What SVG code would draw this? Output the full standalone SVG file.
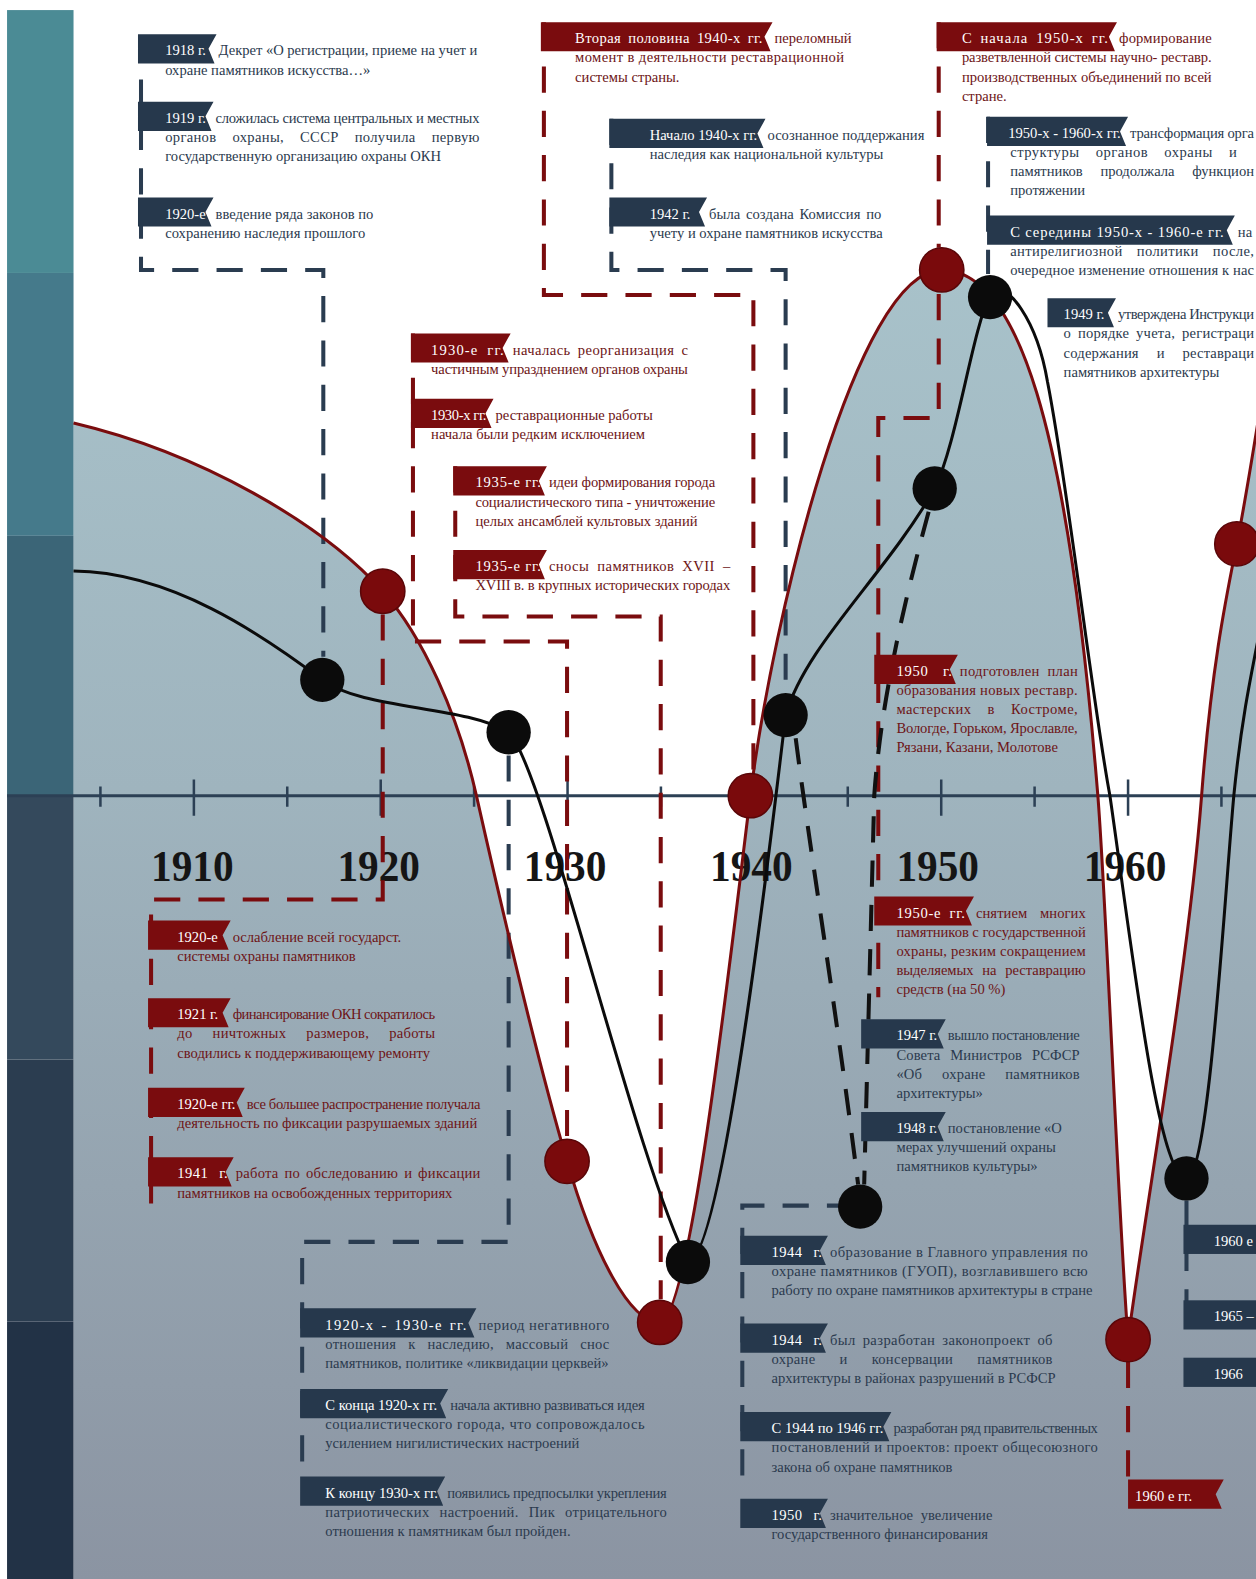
<svg xmlns="http://www.w3.org/2000/svg" width="1256" height="1579" viewBox="0 0 1256 1579">
<defs>
<linearGradient id="bg" x1="0" y1="260" x2="0" y2="1568" gradientUnits="userSpaceOnUse">
<stop offset="0" stop-color="#a8c2ca"/>
<stop offset="0.4" stop-color="#9fb4be"/>
<stop offset="1" stop-color="#8b94a2"/>
</linearGradient>
<style>
.nf{fill:#26384c}
.rf{fill:#7a0c0e}
.ft{font-family:"Liberation Serif",serif;font-size:14.5px;fill:#fff}
.tn{font-family:"Liberation Serif",serif;font-size:14.5px;fill:#2b3a4e}
.tr{font-family:"Liberation Serif",serif;font-size:14.5px;fill:#6d1416}
.dn{fill:none;stroke:#2a3c50;stroke-width:4;stroke-dasharray:26 18}
.dr{fill:none;stroke:#7a0c0e;stroke-width:4;stroke-dasharray:26 18}
.db{fill:none;stroke:#111;stroke-width:4;stroke-dasharray:26 18}
.cr{fill:#7a0a0c;stroke:#5a0608;stroke-width:1.5}
.cb{fill:#0b0b0b}
.yr{font-family:"Liberation Serif",serif;font-weight:bold;font-size:44px;fill:#151515;text-anchor:middle}
.tk{stroke:#2c4055;stroke-width:2.5}
</style>
</defs>
<rect width="1256" height="1579" fill="#fff"/>
<g transform="scale(1.0072)">
<g id="background">
<path d="M73,420 C200,450 320,520 380,587 C420,632 455,710 473,790 C491,870 530,1040 563,1153 C590,1245 625,1313 655,1313 C685,1313 725,950 745,790 C767,614 850,268 935,268 C1010,268 1060,420 1090,790 C1098,889 1110,1200 1120,1330 C1135,1215 1180,960 1193,790 C1203,660 1218,590 1228,540 C1236,500 1244,450 1252,400 L1252,1570 L73,1570 Z" fill="url(#bg)"/>
<rect x="7" y="10" width="66" height="261" fill="#4b8b95"/>
<rect x="7" y="271" width="66" height="261" fill="#457a8b"/>
<rect x="7" y="532" width="66" height="259" fill="#3b6577"/>
<rect x="7" y="791" width="66" height="261" fill="#34495c"/>
<rect x="7" y="1052" width="66" height="260" fill="#2b3d50"/>
<rect x="7" y="1312" width="66" height="258" fill="#223246"/>
</g>
<g id="axis">
<line x1="7" y1="790" x2="1252" y2="790" stroke="#2c4055" stroke-width="3"/>
<path class="tk" d="M192.5,774V810M378,774V810M563.5,774V810M749,774V810M934.5,774V810M1120,774V810M99.7,781V801M285.2,781V801M470.7,781V801M656.2,781V801M841.7,781V801M1027.2,781V801M1212.7,781V801"/>
<text class="yr" x="191" y="875" textLength="82" lengthAdjust="spacingAndGlyphs">1910</text>
<text class="yr" x="376" y="875" textLength="82" lengthAdjust="spacingAndGlyphs">1920</text>
<text class="yr" x="561" y="875" textLength="82" lengthAdjust="spacingAndGlyphs">1930</text>
<text class="yr" x="746" y="875" textLength="82" lengthAdjust="spacingAndGlyphs">1940</text>
<text class="yr" x="931" y="875" textLength="82" lengthAdjust="spacingAndGlyphs">1950</text>
<text class="yr" x="1117" y="875" textLength="82" lengthAdjust="spacingAndGlyphs">1960</text>
</g>
<g id="connectors">
<path class="dn" d="M140,35 V268 H321 V652"/>
<path class="dn" d="M607,118 V268 H780 V688"/>
<path class="dr" d="M540,22 V293 H748 V768"/>
<path class="dr" d="M932,22 V246 M932,292 V415 H872 V990"/>
<path class="dr" d="M410,331 V637 H563 V1130"/>
<path class="dr" d="M452,463 V612 H656 V1290"/>
<path class="dr" d="M380,610 V893 H150 V1195"/>
<path class="dn" d="M505,750 V1233 H300 V1455"/>
<path class="dn" d="M737,1465 V1197 H835"/>
<path class="dn" d="M981,116 V272"/>
<path class="dr" d="M1120,1352 V1470"/>
<path class="dn" d="M1178,1192 V1320"/>
<path class="db" d="M790,733 C805,850 830,1000 852,1176"/>
<path class="db" d="M922,508 C900,590 875,690 868,790 L858,1176"/>
<path d="M73,420 C200,450 320,520 380,587 C420,632 455,710 473,790 C491,870 530,1040 563,1153 C590,1245 625,1313 655,1313 C685,1313 725,950 745,790 C767,614 850,268 935,268 C1010,268 1060,420 1090,790 C1098,889 1110,1200 1120,1330 C1135,1215 1180,960 1193,790 C1203,660 1218,590 1228,540 C1236,500 1244,450 1252,400" fill="none" stroke="#7a0c0e" stroke-width="3"/>
<path d="M73,567 C170,568 260,630 320,675 C360,705 460,700 505,727 C540,760 630,1150 683,1253 C715,1253 760,880 780,710 C800,640 880,570 928,485 C950,440 965,330 983,292 C1000,275 1030,320 1040,379 C1060,480 1085,700 1102,790 C1125,950 1150,1170 1178,1170 C1200,1170 1215,900 1225,790 C1232,720 1240,680 1252,620" fill="none" stroke="#0b0b0b" stroke-width="3"/>
</g>
<g id="points">
<circle class="cr" cx="380" cy="587" r="22"/>
<circle class="cr" cx="563" cy="1153" r="22"/>
<circle class="cr" cx="655" cy="1313" r="22"/>
<circle class="cr" cx="745" cy="790" r="22"/>
<circle class="cr" cx="935" cy="268" r="22"/>
<circle class="cr" cx="1120" cy="1330" r="22"/>
<circle class="cr" cx="1228" cy="540" r="22"/>
<circle class="cb" cx="320" cy="675" r="22"/>
<circle class="cb" cx="505" cy="727" r="22"/>
<circle class="cb" cx="683" cy="1253" r="22"/>
<circle class="cb" cx="780" cy="710" r="22"/>
<circle class="cb" cx="928" cy="485" r="22"/>
<circle class="cb" cx="983" cy="295" r="22"/>
<circle class="cb" cx="1178" cy="1170" r="22"/>
<circle class="cb" cx="854" cy="1198" r="22"/>
</g>
<g id="n1918"><path class="nf" d="M137,34 H215 L207,48.5 L213,63 H137Z"/><text class="ft" x="164" y="55">1918 г.</text><text class="tn" x="217" y="55" textLength="257">Декрет «О регистрации, приеме на учет и</text><text class="tn" x="164" y="74">охране памятников искусства…»</text></g>
<g id="n1919"><path class="nf" d="M137,101 H212 L204,115.5 L210,130 H137Z"/><text class="ft" x="164" y="122">1919 г.</text><text class="tn" x="214" y="122" textLength="262">сложилась система центральных и местных</text><text class="tn" x="164" y="141" textLength="312" style="word-spacing:12px">органов охраны, СССР получила первую</text><text class="tn" x="164" y="160">государственную организацию охраны ОКН</text></g>
<g id="n1920a"><path class="nf" d="M137,196 H212 L204,210.5 L210,225 H137Z"/><text class="ft" x="164" y="217">1920-е</text><text class="tn" x="214" y="217">введение ряда законов по</text><text class="tn" x="164" y="236">сохранению наследия прошлого</text></g>
<g id="r1940b"><path class="rf" d="M537,22 H767 L759,36.5 L765,51 H537Z"/><text class="ft" x="571" y="43" textLength="186" style="word-spacing:3px">Вторая половина 1940-х гг.</text><text class="tr" x="769" y="43">переломный</text><text class="tr" x="571" y="62" textLength="267">момент в деятельности реставрационной</text><text class="tr" x="571" y="81">системы страны.</text></g>
<g id="n1940a"><path class="nf" d="M605,118 H760 L752,132.5 L758,147 H605Z"/><text class="ft" x="645" y="139">Начало 1940-х гг.</text><text class="tn" x="762" y="139">осознанное поддержания</text><text class="tn" x="645" y="158">наследия как национальной культуры</text></g>
<g id="n1942"><path class="nf" d="M605,196 H702 L694,210.5 L700,225 H605Z"/><text class="ft" x="645" y="217">1942 г.</text><text class="tn" x="704" y="217" textLength="171" style="word-spacing:2px">была создана Комиссия по</text><text class="tn" x="645" y="236">учету и охране памятников искусства</text></g>
<g id="r1950a"><path class="rf" d="M930,22 H1109 L1101,36.5 L1107,51 H930Z"/><text class="ft" x="955" y="43" textLength="145" style="word-spacing:3px">С начала 1950-х гг.</text><text class="tr" x="1111" y="43" textLength="92">формирование</text><text class="tr" x="955" y="62" textLength="248">разветвленной системы научно- реставр.</text><text class="tr" x="955" y="81" textLength="248">производственных объединений по всей</text><text class="tr" x="955" y="100">стране.</text></g>
<g id="n1950b"><path class="nf" d="M980,116 H1120 L1112,130.5 L1118,145 H980Z"/><text class="ft" x="1001" y="137">1950-х - 1960-х гг.</text><text class="tn" x="1122" y="137" textLength="123">трансформация орга</text><text class="tn" x="1003" y="156" textLength="225" style="word-spacing:12px">структуры органов охраны и</text><text class="tn" x="1003" y="175" textLength="242" style="word-spacing:14px">памятников продолжала функцион</text><text class="tn" x="1003" y="194">протяжении</text></g>
<g id="n1950c"><path class="nf" d="M980,214 H1226 L1218,228.5 L1224,243 H980Z"/><text class="ft" x="1003" y="235" textLength="212">С середины 1950-х - 1960-е гг.</text><text class="tn" x="1229" y="235">на</text><text class="tn" x="1003" y="254" textLength="242" style="word-spacing:10px">антирелигиозной политики после,</text><text class="tn" x="1003" y="273" textLength="242">очередное изменение отношения к нас</text></g>
<g id="n1949"><path class="nf" d="M1040,296 H1108 L1100,310.5 L1106,325 H1040Z"/><text class="ft" x="1056" y="317">1949 г.</text><text class="tn" x="1110" y="317" textLength="135">утверждена Инструкци</text><text class="tn" x="1056" y="336" textLength="189" style="word-spacing:3px">о порядке учета, регистраци</text><text class="tn" x="1056" y="355" textLength="189" style="word-spacing:14px">содержания и реставраци</text><text class="tn" x="1056" y="374">памятников архитектуры</text></g>
<g id="r1930a"><path class="rf" d="M408,331 H507 L499,345.5 L505,360 H408Z"/><text class="ft" x="428" y="352" textLength="72" style="word-spacing:4px">1930-е гг.</text><text class="tr" x="509" y="352" textLength="174" style="word-spacing:3px">началась реорганизация с</text><text class="tr" x="428" y="371" textLength="255">частичным упразднением органов охраны</text></g>
<g id="r1930b"><path class="rf" d="M408,396 H490 L482,410.5 L488,425 H408Z"/><text class="ft" x="428" y="417" textLength="55">1930-х гг.</text><text class="tr" x="492" y="417">реставрационные работы</text><text class="tr" x="428" y="436">начала были редким исключением</text></g>
<g id="r1935a"><path class="rf" d="M450,463 H543 L535,477.5 L541,492 H450Z"/><text class="ft" x="472" y="484" textLength="65">1935-е гг.</text><text class="tr" x="545" y="484" textLength="165">идеи формирования города</text><text class="tr" x="472" y="503" textLength="238">социалистического типа - уничтожение</text><text class="tr" x="472" y="522">целых ансамблей культовых зданий</text></g>
<g id="r1935b"><path class="rf" d="M450,546 H543 L535,560.5 L541,575 H450Z"/><text class="ft" x="472" y="567" textLength="65">1935-е гг.</text><text class="tr" x="545" y="567" textLength="180" style="word-spacing:4px">сносы памятников XVII –</text><text class="tr" x="472" y="586" textLength="253">XVIII в. в крупных исторических городах</text></g>
<g id="r1950d"><path class="rf" d="M868,650 H951 L943,664.5 L949,679 H868Z"/><text class="ft" x="890" y="671" textLength="55" style="word-spacing:10px">1950 г.</text><text class="tr" x="953" y="671" textLength="117" style="word-spacing:4px">подготовлен план</text><text class="tr" x="890" y="690" textLength="180">образования новых реставр.</text><text class="tr" x="890" y="709" textLength="180" style="word-spacing:12px">мастерских в Костроме,</text><text class="tr" x="890" y="728" textLength="180">Вологде, Горьком, Ярославле,</text><text class="tr" x="890" y="747">Рязани, Казани, Молотове</text></g>
<g id="r1950e"><path class="rf" d="M868,890 H967 L959,904.5 L965,919 H868Z"/><text class="ft" x="890" y="911" textLength="68" style="word-spacing:4px">1950-е гг.</text><text class="tr" x="969" y="911" textLength="109" style="word-spacing:9px">снятием многих</text><text class="tr" x="890" y="930" textLength="188">памятников с государственной</text><text class="tr" x="890" y="949" textLength="188">охраны, резким сокращением</text><text class="tr" x="890" y="968" textLength="188" style="word-spacing:5px">выделяемых на реставрацию</text><text class="tr" x="890" y="987">средств (на 50 %)</text></g>
<g id="n1947"><path class="nf" d="M855,1012 H939 L931,1026.5 L937,1041 H855Z"/><text class="ft" x="890" y="1033">1947 г.</text><text class="tn" x="941" y="1033" textLength="131">вышло постановление</text><text class="tn" x="890" y="1052" textLength="182" style="word-spacing:6px">Совета Министров РСФСР</text><text class="tn" x="890" y="1071" textLength="182" style="word-spacing:16px">«Об охране памятников</text><text class="tn" x="890" y="1090">архитектуры»</text></g>
<g id="n1948"><path class="nf" d="M855,1104 H939 L931,1118.5 L937,1133 H855Z"/><text class="ft" x="890" y="1125">1948 г.</text><text class="tn" x="941" y="1125">постановление «О</text><text class="tn" x="890" y="1144">мерах улучшений охраны</text><text class="tn" x="890" y="1163">памятников культуры»</text></g>
<g id="r1920b"><path class="rf" d="M147,914 H229 L221,928.5 L227,943 H147Z"/><text class="ft" x="176" y="935">1920-е</text><text class="tr" x="231" y="935">ослабление всей государст.</text><text class="tr" x="176" y="954">системы охраны памятников</text></g>
<g id="r1921"><path class="rf" d="M147,991 H229 L221,1005.5 L227,1020 H147Z"/><text class="ft" x="176" y="1012">1921 г.</text><text class="tr" x="231" y="1012" textLength="201">финансирование ОКН сократилось</text><text class="tr" x="176" y="1031" textLength="256" style="word-spacing:16px">до ничтожных размеров, работы</text><text class="tr" x="176" y="1050">сводились к поддерживающему ремонту</text></g>
<g id="r1920c"><path class="rf" d="M147,1080 H243 L235,1094.5 L241,1109 H147Z"/><text class="ft" x="176" y="1101">1920-е гг.</text><text class="tr" x="245" y="1101" textLength="232">все большее распространение получала</text><text class="tr" x="176" y="1120">деятельность по фиксации разрушаемых зданий</text></g>
<g id="r1941"><path class="rf" d="M147,1149 H232 L224,1163.5 L230,1178 H147Z"/><text class="ft" x="176" y="1170" textLength="50" style="word-spacing:7px">1941 г.</text><text class="tr" x="234" y="1170" textLength="243" style="word-spacing:2px">работа по обследованию и фиксации</text><text class="tr" x="176" y="1189">памятников на освобожденных территориях</text></g>
<g id="n1920d"><path class="nf" d="M298,1299 H473 L465,1313.5 L471,1328 H298Z"/><text class="ft" x="323" y="1320" textLength="140" style="word-spacing:2px">1920-х - 1930-е гг.</text><text class="tn" x="475" y="1320" textLength="130">период негативного</text><text class="tn" x="323" y="1339" textLength="282" style="word-spacing:8px">отношения к наследию, массовый снос</text><text class="tn" x="323" y="1358">памятников, политике «ликвидации церквей»</text></g>
<g id="n1920e"><path class="nf" d="M298,1379 H445 L437,1393.5 L443,1408 H298Z"/><text class="ft" x="323" y="1400">С конца 1920-х гг.</text><text class="tn" x="447" y="1400" textLength="193">начала активно развиваться идея</text><text class="tn" x="323" y="1419" textLength="317">социалистического города, что сопровождалось</text><text class="tn" x="323" y="1438">усилением нигилистических настроений</text></g>
<g id="n1930c"><path class="nf" d="M298,1466 H442 L434,1480.5 L440,1495 H298Z"/><text class="ft" x="323" y="1487">К концу 1930-х гг.</text><text class="tn" x="444" y="1487" textLength="218">появились предпосылки укрепления</text><text class="tn" x="323" y="1506" textLength="339" style="word-spacing:6px">патриотических настроений. Пик отрицательного</text><text class="tn" x="323" y="1525">отношения к памятникам был пройден.</text></g>
<g id="n1944a"><path class="nf" d="M735,1227 H822 L814,1241.5 L820,1256 H735Z"/><text class="ft" x="766" y="1248" textLength="50" style="word-spacing:7px">1944 г.</text><text class="tn" x="824" y="1248" textLength="256">образование в Главного управления по</text><text class="tn" x="766" y="1267" textLength="314">охране памятников (ГУОП), возглавившего всю</text><text class="tn" x="766" y="1286">работу по охране памятников архитектуры в стране</text></g>
<g id="n1944b"><path class="nf" d="M735,1314 H822 L814,1328.5 L820,1343 H735Z"/><text class="ft" x="766" y="1335" textLength="50" style="word-spacing:7px">1944 г.</text><text class="tn" x="824" y="1335" textLength="221" style="word-spacing:3px">был разработан законопроект об</text><text class="tn" x="766" y="1354" textLength="279" style="word-spacing:20px">охране и консервации памятников</text><text class="tn" x="766" y="1373">архитектуры в районах разрушений в РСФСР</text></g>
<g id="n1944c"><path class="nf" d="M735,1402 H885 L877,1416.5 L883,1431 H735Z"/><text class="ft" x="766" y="1423">С 1944 по 1946 гг.</text><text class="tn" x="887" y="1423" textLength="203">разработан ряд правительственных</text><text class="tn" x="766" y="1442" textLength="324">постановлений и проектов: проект общесоюзного</text><text class="tn" x="766" y="1461">закона об охране памятников</text></g>
<g id="n1950f"><path class="nf" d="M735,1488 H822 L814,1502.5 L820,1517 H735Z"/><text class="ft" x="766" y="1509" textLength="50" style="word-spacing:7px">1950 г.</text><text class="tn" x="824" y="1509" style="word-spacing:4px">значительное увеличение</text><text class="tn" x="766" y="1528">государственного финансирования</text></g>
<g id="n1960a"><rect class="nf" x="1175" y="1216" width="80" height="29"/><text class="ft" x="1205" y="1237">1960 е</text></g>
<g id="n1965"><rect class="nf" x="1175" y="1291" width="80" height="29"/><text class="ft" x="1205" y="1312">1965 –</text></g>
<g id="n1966"><rect class="nf" x="1175" y="1348" width="80" height="29"/><text class="ft" x="1205" y="1369">1966</text></g>
<g id="r1960b"><path class="rf" d="M1120,1469 H1215 L1207,1483.5 L1213,1498 H1120Z"/><text class="ft" x="1127" y="1490">1960 е гг.</text></g>
</g>
</svg>
